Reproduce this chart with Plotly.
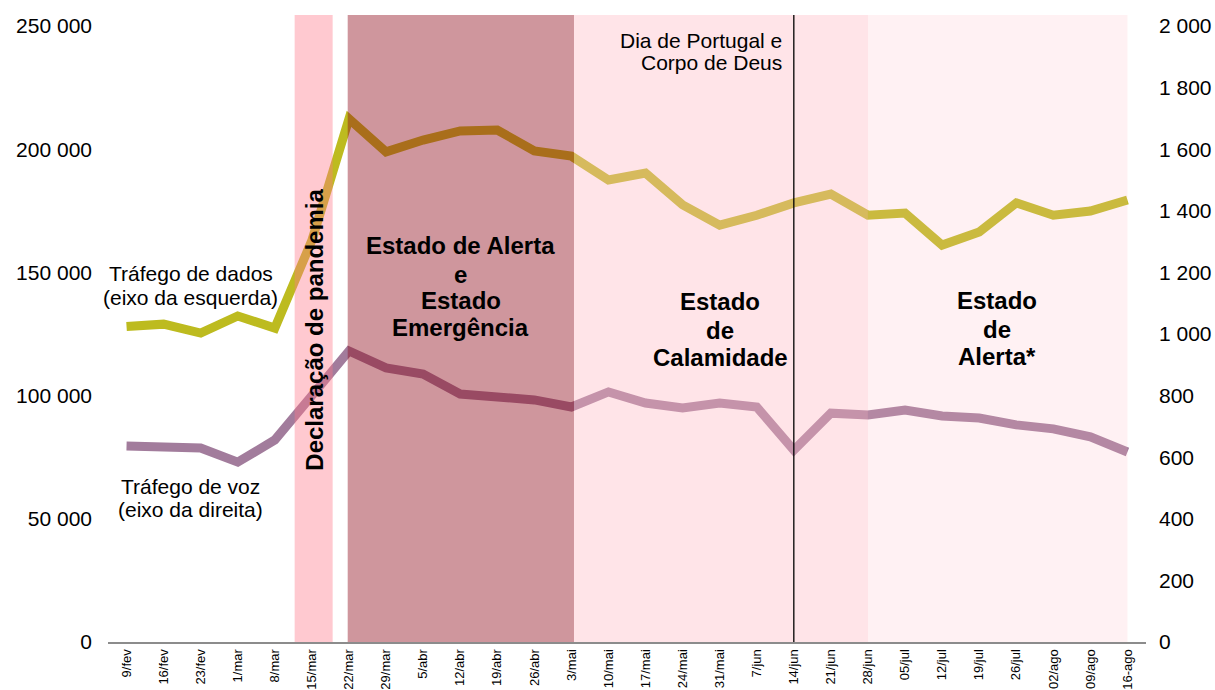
import plotly.graph_objects as go

weeks = ["9/fev", "16/fev", "23/fev", "1/mar", "8/mar", "15/mar", "22/mar", "29/mar",
         "5/abr", "12/abr", "19/abr", "26/abr", "3/mai", "10/mai", "17/mai", "24/mai",
         "31/mai", "7/jun", "14/jun", "21/jun", "28/jun", "05/jul", "12/jul", "19/jul",
         "26/jul", "02/ago", "09/ago", "16-ago"]

dados = [128000, 129000, 125400, 132300, 127400, 163000, 212300, 198900,
         203700, 207400, 207800, 199300, 197200, 187500, 190300, 177400,
         169200, 173200, 178200, 181800, 173200, 174100, 161100, 166400,
         178200, 173200, 174900, 179400]

voz = [636, 630, 630, 584, 656, 800, 945, 890,
       870, 805, 799, 786, 763, 812, 776, 760,
       776, 763, 623, 743, 737, 753, 734, 727,
       705, 692, 666, 617]

FONT = "Liberation Sans, Arial, sans-serif"

fig = go.Figure()
fig.add_trace(go.Scatter(x=weeks, y=dados, mode="lines", yaxis="y",
                         line=dict(color="#BDBB1F", width=9), showlegend=False,
                         hoverinfo="skip"))
fig.add_trace(go.Scatter(x=weeks, y=voz, mode="lines", yaxis="y2",
                         line=dict(color="#A27C9C", width=9), showlegend=False,
                         hoverinfo="skip"))

# period bands (drawn above the lines, semi-transparent)
bands = [
    (4.535, 5.56, "rgba(255,120,137,0.40)"),
    (5.966, 12.07, "rgba(141,5,22,0.42)"),
    (12.07, 20.0, "rgba(255,184,195,0.38)"),
    (20.0, 27.0, "rgba(255,184,195,0.20)"),
]
for x0, x1, col in bands:
    fig.add_shape(type="rect", xref="x", yref="paper", x0=x0, x1=x1, y0=0, y1=1,
                  fillcolor=col, line=dict(width=0), layer="above")

fig.add_shape(type="line", xref="x", yref="paper", x0=18, x1=18, y0=0, y1=1,
              line=dict(color="black", width=1.3), layer="above")

def ann(text, x, y, size=21, bold=False, xanchor="center", angle=0):
    fig.add_annotation(text=f"<b>{text}</b>" if bold else text, x=x, y=y,
                       xref="x", yref="paper", showarrow=False,
                       xanchor=xanchor, yanchor="middle", textangle=angle,
                       font=dict(family=FONT, size=size, color="black"))

ann("Tráfego de dados", 1.727, 0.5885)
ann("(eixo da esquerda)", 1.727, 0.5502)
ann("Tráfego de voz", 1.727, 0.2488)
ann("(eixo da direita)", 1.727, 0.2121)
ann("Declaração de pandemia", 5.048, 0.4976, size=24, bold=True, angle=-90)
for txt, yy in [("Estado de Alerta", 0.6316), ("e", 0.5869), ("Estado", 0.5439), ("Emergência", 0.5008)]:
    ann(txt, 9.017, yy, size=24, bold=True)
for txt, yy in [("Estado", 0.5423), ("de", 0.4976), ("Calamidade", 0.4545)]:
    ann(txt, 16.01, yy, size=24, bold=True)
for txt, yy in [("Estado", 0.5439), ("de", 0.4992), ("Alerta*", 0.4561)]:
    ann(txt, 23.49, yy, size=24, bold=True)
ann("Dia de Portugal e", 17.74, 0.9601, xanchor="right")
ann("Corpo de Deus", 17.74, 0.9250, xanchor="right")

fig.update_layout(
    width=1215, height=690,
    margin=dict(l=108, r=69, t=15, b=48, autoexpand=False),
    paper_bgcolor="white", plot_bgcolor="white",
    separators=", ",
    font=dict(family=FONT, color="black"),
    xaxis=dict(type="category", range=[-0.5, 27.5], showgrid=False, zeroline=False,
               showline=True, linecolor="#8c8c8c", linewidth=2, ticks="",
               tickangle=-90, tickfont=dict(size=13, family=FONT)),
    yaxis=dict(range=[0, 254464], tickvals=[0, 50000, 100000, 150000, 200000, 250000],
               tickformat=",", showgrid=False, zeroline=False, showline=False,
               ticks="", ticklabelstandoff=15, tickfont=dict(size=21, family=FONT)),
    yaxis2=dict(range=[0, 2035.7], overlaying="y", side="right",
                tickvals=[0, 200, 400, 600, 800, 1000, 1200, 1400, 1600, 1800, 2000],
                tickformat=",", showgrid=False, zeroline=False, showline=False,
                ticks="", ticklabelstandoff=12, tickfont=dict(size=21, family=FONT)),
)

fig.write_html(
    "out.html",
    config={"displayModeBar": False},
    post_script="document.body.style.margin='0px';document.body.style.padding='0px';"
                "document.body.style.overflow='hidden';",
)
